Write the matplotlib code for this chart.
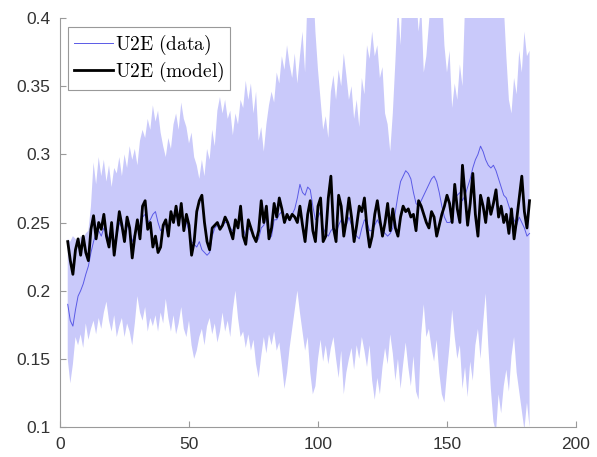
import numpy as np
import matplotlib
matplotlib.use("Agg")
import matplotlib.pyplot as plt

plt.rcParams['mathtext.fontset'] = 'cm'

# time steps 3..182
steps = np.arange(3, 183)

# U2E model (black line)
model = [
    0.236, 0.222, 0.212, 0.230, 0.238, 0.226, 0.240, 0.228, 0.222, 0.245,
    0.255, 0.238, 0.250, 0.245, 0.256, 0.240, 0.232, 0.250, 0.226, 0.242,
    0.258, 0.248, 0.236, 0.254, 0.246, 0.224, 0.240, 0.252, 0.238, 0.262,
    0.266, 0.245, 0.250, 0.232, 0.240, 0.228, 0.232, 0.248, 0.252, 0.240,
    0.258, 0.250, 0.262, 0.248, 0.264, 0.244, 0.256, 0.248, 0.226, 0.236,
    0.258, 0.266, 0.270, 0.250, 0.236, 0.230, 0.246, 0.248, 0.250, 0.245,
    0.248, 0.254, 0.250, 0.244, 0.238, 0.252, 0.246, 0.262, 0.240, 0.234,
    0.252, 0.246, 0.240, 0.236, 0.244, 0.266, 0.250, 0.262, 0.238, 0.246,
    0.264, 0.254, 0.268, 0.260, 0.250, 0.256, 0.252, 0.256, 0.254, 0.250,
    0.262, 0.248, 0.236, 0.256, 0.266, 0.244, 0.236, 0.262, 0.268, 0.236,
    0.240, 0.268, 0.284, 0.246, 0.236, 0.270, 0.262, 0.240, 0.252, 0.268,
    0.254, 0.236, 0.248, 0.262, 0.258, 0.268, 0.246, 0.232, 0.240, 0.256,
    0.266, 0.252, 0.240, 0.250, 0.264, 0.244, 0.260, 0.246, 0.240, 0.254,
    0.262, 0.258, 0.260, 0.254, 0.256, 0.244, 0.266, 0.262, 0.256, 0.250,
    0.246, 0.258, 0.254, 0.240, 0.248, 0.256, 0.262, 0.270, 0.264, 0.250,
    0.278, 0.260, 0.250, 0.292, 0.270, 0.248, 0.264, 0.286, 0.256, 0.240,
    0.270, 0.262, 0.250, 0.268, 0.256, 0.264, 0.274, 0.254, 0.262, 0.250,
    0.256, 0.242, 0.260, 0.238, 0.252, 0.268, 0.284, 0.258, 0.246, 0.266,
]

# U2E data (thin blue line)
data = [
    0.190, 0.178, 0.174, 0.186, 0.196, 0.200, 0.205, 0.212, 0.218, 0.228,
    0.236, 0.242, 0.244, 0.240, 0.246, 0.242, 0.238, 0.244, 0.236, 0.240,
    0.250, 0.246, 0.240, 0.248, 0.244, 0.236, 0.242, 0.246, 0.242, 0.254,
    0.256, 0.250, 0.252, 0.256, 0.258, 0.250, 0.244, 0.246, 0.250, 0.246,
    0.254, 0.252, 0.256, 0.250, 0.256, 0.248, 0.250, 0.244, 0.236, 0.234,
    0.232, 0.236, 0.230, 0.228, 0.226, 0.228, 0.240, 0.246, 0.248, 0.246,
    0.248, 0.250, 0.250, 0.246, 0.244, 0.248, 0.248, 0.254, 0.246, 0.240,
    0.246, 0.244, 0.240, 0.236, 0.238, 0.246, 0.248, 0.254, 0.238, 0.240,
    0.252, 0.252, 0.256, 0.258, 0.252, 0.254, 0.252, 0.256, 0.260, 0.268,
    0.278, 0.272, 0.270, 0.276, 0.274, 0.262, 0.252, 0.254, 0.258, 0.246,
    0.242, 0.240, 0.244, 0.246, 0.242, 0.248, 0.252, 0.246, 0.248, 0.254,
    0.248, 0.242, 0.240, 0.238, 0.246, 0.252, 0.250, 0.244, 0.244, 0.248,
    0.252, 0.248, 0.244, 0.242, 0.240, 0.242, 0.246, 0.258, 0.270, 0.280,
    0.284, 0.288, 0.286, 0.282, 0.272, 0.264, 0.262, 0.266, 0.270, 0.274,
    0.278, 0.282, 0.284, 0.280, 0.272, 0.262, 0.254, 0.250, 0.250, 0.252,
    0.268, 0.270, 0.272, 0.266, 0.270, 0.276, 0.282, 0.290, 0.296, 0.300,
    0.306, 0.302, 0.296, 0.292, 0.290, 0.292, 0.288, 0.282, 0.276, 0.270,
    0.268, 0.262, 0.256, 0.252, 0.248, 0.254, 0.250, 0.246, 0.240, 0.242,
]

# upper edge of shaded band
upper = [
    0.238, 0.236, 0.240, 0.238, 0.236, 0.240, 0.238, 0.242, 0.244, 0.262,
    0.294, 0.278, 0.298, 0.284, 0.296, 0.280, 0.292, 0.276, 0.290, 0.286,
    0.298, 0.284, 0.300, 0.290, 0.306, 0.296, 0.304, 0.292, 0.310, 0.318,
    0.312, 0.326, 0.318, 0.336, 0.324, 0.332, 0.316, 0.306, 0.298, 0.312,
    0.304, 0.322, 0.330, 0.318, 0.338, 0.326, 0.320, 0.308, 0.316, 0.298,
    0.292, 0.282, 0.296, 0.284, 0.304, 0.296, 0.318, 0.306, 0.332, 0.342,
    0.330, 0.340, 0.326, 0.332, 0.314, 0.330, 0.322, 0.340, 0.334, 0.354,
    0.340, 0.352, 0.330, 0.346, 0.310, 0.320, 0.302, 0.322, 0.336, 0.346,
    0.338, 0.360, 0.352, 0.372, 0.362, 0.380, 0.366, 0.356, 0.374, 0.352,
    0.372, 0.390, 0.360, 0.420, 0.400, 0.430, 0.390, 0.362, 0.340, 0.318,
    0.328, 0.312, 0.346, 0.358, 0.340, 0.362, 0.350, 0.374, 0.358, 0.340,
    0.350, 0.326, 0.340, 0.320, 0.356, 0.344, 0.380, 0.370, 0.390, 0.372,
    0.380, 0.356, 0.364, 0.330, 0.322, 0.302, 0.330, 0.368, 0.410, 0.380,
    0.430, 0.410, 0.440, 0.400, 0.430, 0.420, 0.390, 0.410, 0.360, 0.372,
    0.396, 0.420, 0.400, 0.440, 0.410, 0.420, 0.380, 0.360, 0.376, 0.334,
    0.352, 0.340, 0.366, 0.350, 0.410, 0.440, 0.420, 0.450, 0.430, 0.440,
    0.460, 0.420, 0.440, 0.410, 0.450, 0.430, 0.420, 0.440, 0.400, 0.410,
    0.372, 0.340, 0.330, 0.356, 0.344, 0.376, 0.360, 0.390, 0.372, 0.376,
]

# lower edge of shaded band
lower = [
    0.150, 0.132, 0.146, 0.166, 0.160, 0.168, 0.158, 0.176, 0.164, 0.172,
    0.178, 0.168, 0.180, 0.172, 0.184, 0.192, 0.178, 0.170, 0.182, 0.166,
    0.174, 0.180, 0.166, 0.176, 0.170, 0.160, 0.176, 0.196, 0.184, 0.178,
    0.188, 0.170, 0.180, 0.174, 0.182, 0.170, 0.184, 0.176, 0.194, 0.180,
    0.170, 0.182, 0.168, 0.176, 0.188, 0.172, 0.166, 0.178, 0.160, 0.150,
    0.156, 0.166, 0.172, 0.160, 0.174, 0.180, 0.168, 0.176, 0.162, 0.170,
    0.184, 0.170, 0.178, 0.166, 0.186, 0.200, 0.180, 0.166, 0.170, 0.158,
    0.168, 0.156, 0.164, 0.146, 0.136, 0.152, 0.166, 0.154, 0.168, 0.160,
    0.170, 0.156, 0.162, 0.146, 0.128, 0.140, 0.158, 0.172, 0.186, 0.200,
    0.184, 0.170, 0.156, 0.166, 0.140, 0.124, 0.130, 0.150, 0.164, 0.148,
    0.160, 0.146, 0.158, 0.166, 0.150, 0.136, 0.156, 0.124, 0.140, 0.150,
    0.158, 0.142, 0.160, 0.150, 0.166, 0.156, 0.144, 0.160, 0.134, 0.120,
    0.136, 0.124, 0.144, 0.158, 0.146, 0.168, 0.154, 0.134, 0.150, 0.128,
    0.146, 0.162, 0.144, 0.130, 0.152, 0.126, 0.120, 0.168, 0.190, 0.166,
    0.172, 0.158, 0.148, 0.164, 0.140, 0.124, 0.118, 0.140, 0.160, 0.186,
    0.166, 0.150, 0.160, 0.128, 0.144, 0.122, 0.148, 0.134, 0.160, 0.172,
    0.150, 0.176, 0.198, 0.160, 0.128, 0.104, 0.096, 0.124, 0.110, 0.130,
    0.142, 0.126, 0.152, 0.166, 0.140, 0.126, 0.112, 0.098, 0.118, 0.100,
]

fig = plt.figure(figsize=(5.97, 4.57), dpi=100)
ax = fig.add_axes([0.1005, 0.0656, 0.8643, 0.895])

ax.fill_between(steps, lower, upper, color=(0.79, 0.79, 0.98), linewidth=0)
ax.plot(steps, data, color='#5a5ae6', linewidth=0.7,
        label=r'$\mathrm{U2E\ (data)}$')
ax.plot(steps, model, color='black', linewidth=2.0,
        label=r'$\mathrm{U2E\ (model)}$')

ax.set_xlim(0, 200)
ax.set_ylim(0.1, 0.4)
ax.set_xticks([0, 50, 100, 150, 200])
ax.set_yticks([0.1, 0.15, 0.2, 0.25, 0.3, 0.35, 0.4])
ax.set_yticklabels(['0.1', '0.15', '0.2', '0.25', '0.3', '0.35', '0.4'])

for s in ['top', 'right']:
    ax.spines[s].set_visible(False)
for s in ['left', 'bottom']:
    ax.spines[s].set_color('#9a9a9a')
    ax.spines[s].set_linewidth(0.8)
ax.tick_params(direction='in', length=4, width=0.8, color='#9a9a9a',
               labelsize=12.5, labelcolor='#333333', pad=7)
for lab in ax.get_xticklabels() + ax.get_yticklabels():
    lab.set_fontfamily('Liberation Sans')

leg = ax.legend(loc='upper left', bbox_to_anchor=(0.0155, 0.978),
                borderaxespad=0, fontsize=14, frameon=True, fancybox=False,
                framealpha=1, edgecolor='#999999', handlelength=2.0,
                handletextpad=0.1, labelspacing=0.15, borderpad=0.3)
leg.get_frame().set_linewidth(0.8)

fig.savefig('out.png', dpi=100)
